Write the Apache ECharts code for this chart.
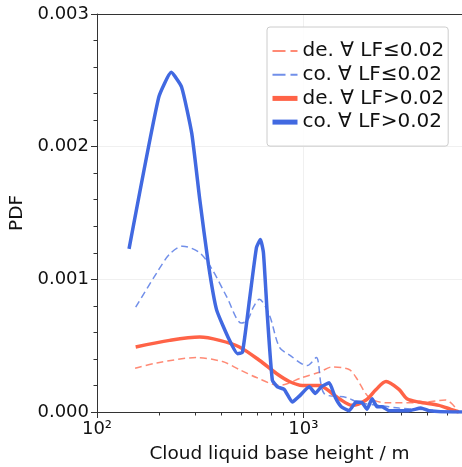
<!DOCTYPE html>
<html><head><meta charset="utf-8">
<script src="https://cdn.jsdelivr.net/npm/echarts@6/dist/echarts.min.js"></script>
<style>html,body{margin:0;padding:0;background:#fff}#c{width:462px;height:467px}</style>
</head><body><div id="c"></div>
<script>
// Cloud liquid base height (m) and PDF values
const coHighX = [143,199,229,257,288,315,347,380,439,480,507,548,593,620,641,670,708,749,809,885,957,1069,1143,1222,1335,1429,1528,1668,1803,1928,2038,2155,2277,2408,2603,3251,3715,4063,5360,5880];
const coHighY = [0.00123,0.00237,0.00256,0.00245,0.0021,0.0016,0.00111,0.00077,0.00054,0.00044,0.00045,0.00084,0.00124,0.0013,0.0012,0.00072,0.00024,0.00019,0.00017,0.000075,0.00012,0.00019,0.00014,0.00019,0.00022,0.00011,0.00004,0.00001,0.000075,0.00007,0.00002,0.0001,0.00004,0.00004,0.00001,0.00001,0.00003,0.00001,0.0,0.0];

const coLowX = [154,195,225,260,315,363,425,502,536,573,612,685,765,856,1045,1156,1262,1614,1866,2330,2910,4063,5360,5880];
const coLowY = [0.00079,0.00105,0.00119,0.00125,0.0012,0.00107,0.00087,0.00067,0.00069,0.00079,0.00085,0.00073,0.00049,0.00043,0.00035,0.00041,0.00014,0.00011,0.00007,0.00005,0.00003,0.000015,0.0,0.0];

const deHighX = [154,225,315,393,490,612,741,856,988,1195,1381,1493,1725,2015,2254,2518,2910,3179,3630,4540,5190,5675];
const deHighY = [0.00049,0.00054,0.000565,0.00054,0.00049,0.00039,0.00029,0.00023,0.0002,0.0002,0.00014,0.0001,0.00005,0.00009,0.00017,0.00023,0.00017,0.0001,0.000075,0.00005,0.00002,0.0];

const deLowX = [153,195,304,406,490,593,765,988,1195,1381,1668,1803,2085,2518,3630,4900,5675];
const deLowY = [0.00033,0.00037,0.00041,0.00038,0.00032,0.00026,0.0002,0.00026,0.0003,0.00034,0.00032,0.00026,0.00011,0.00007,0.00007,0.00009,0.0];

const names = ['de. \u2200 LF\u22640.02','co. \u2200 LF\u22640.02','de. \u2200 LF>0.02','co. \u2200 LF>0.02'];
const xMin = 100, xMax = 5880;
const yTicks = [0, 0.001, 0.002, 0.003];
const minorX = [200,300,400,500,600,700,800,900,2000,3000,4000,5000];

const zip = (xs, ys) => xs.map((x,i)=>[x, ys[i]]);
const BLUE = '#4169E1', RED = '#FF6347';
const FONT = 'DejaVu Sans';
const sup = {2:'\u00b2',3:'\u00b3',4:'\u2074'};

const chart = echarts.init(document.getElementById('c'), null, {renderer:'canvas'});
chart.setOption({
  animation:false,
  textStyle:{fontFamily:FONT},
  grid:{left:97, top:14, right:0, bottom:55, containLabel:false, outerBoundsMode:'none'},
  legend:{
    left:267, top:27, orient:'vertical',
    padding:[14,4,14,3], itemGap:3.7, itemWidth:25, itemHeight:19,
    backgroundColor:'rgba(255,255,255,0.85)', borderColor:'#cccccc', borderWidth:1, borderRadius:3,
    textStyle:{fontFamily:FONT, fontSize:20, color:'#111'},
    itemStyle:{opacity:0},
    data:[
      {name:names[0], lineStyle:{width:2, type:[13,5]}},
      {name:names[1], lineStyle:{width:2, type:[13,5]}},
      {name:names[2], lineStyle:{width:5}},
      {name:names[3], lineStyle:{width:5}}
    ]
  },
  xAxis:[
    {type:'log', logBase:10, min:xMin, max:xMax, position:'bottom',
     axisLine:{show:true, lineStyle:{color:'#333', width:1}},
     axisTick:{show:true, length:6, lineStyle:{color:'#333'}},
     axisLabel:{show:true, fontSize:18, color:'#111', margin:8, showMaxLabel:false,
       formatter:v=>{const e=Math.round(Math.log10(v)); return '10'+sup[e];}},
     splitLine:{show:true, lineStyle:{color:'#f0f0f0', width:1}},
     name:'Cloud liquid base height / m', nameLocation:'middle', nameGap:33,
     nameTextStyle:{fontSize:18.5, color:'#111', fontFamily:FONT}},
    {type:'log', logBase:10, min:xMin, max:xMax, position:'bottom', gridIndex:0,
     axisLine:{show:false}, axisLabel:{show:false}, splitLine:{show:false},
     axisTick:{show:true, length:3.5, customValues:minorX, lineStyle:{color:'#333'}}},
    {type:'log', logBase:10, min:xMin, max:xMax, position:'top', gridIndex:0,
     axisLine:{show:true, lineStyle:{color:'#333'}}, axisLabel:{show:false}, axisTick:{show:false}, splitLine:{show:false}}
  ],
  yAxis:{type:'value', min:yTicks[0], max:yTicks[yTicks.length-1], interval:0.001,
    axisLine:{show:true, lineStyle:{color:'#333'}},
    axisTick:{show:true, length:6, lineStyle:{color:'#333'}},
    minorTick:{show:true, splitNumber:5, length:3.5, lineStyle:{color:'#333'}},
    axisLabel:{fontSize:18, color:'#111', margin:8, formatter:v=>v.toFixed(3)},
    splitLine:{show:true, lineStyle:{color:'#f0f0f0'}},
    name:'PDF', nameLocation:'middle', nameGap:65, nameRotate:90,
    nameTextStyle:{fontSize:18.5, color:'#111', fontFamily:FONT}},
  series:[
    {name:names[0], type:'line', symbol:'none', smooth:0.3, data:zip(deLowX,deLowY),
     lineStyle:{color:RED, width:1.5, type:[7,4], opacity:0.75}, itemStyle:{color:RED, opacity:0.75}},
    {name:names[1], type:'line', symbol:'none', smooth:0.3, data:zip(coLowX,coLowY),
     lineStyle:{color:BLUE, width:1.5, type:[7,4], opacity:0.75}, itemStyle:{color:BLUE, opacity:0.75}},
    {name:names[2], type:'line', symbol:'none', smooth:0.3, data:zip(deHighX,deHighY),
     lineStyle:{color:RED, width:3.5}, itemStyle:{color:RED}},
    {name:names[3], type:'line', symbol:'none', smooth:0.15, data:zip(coHighX,coHighY),
     lineStyle:{color:BLUE, width:3.5}, itemStyle:{color:BLUE}}
  ]
});
</script></body></html>
